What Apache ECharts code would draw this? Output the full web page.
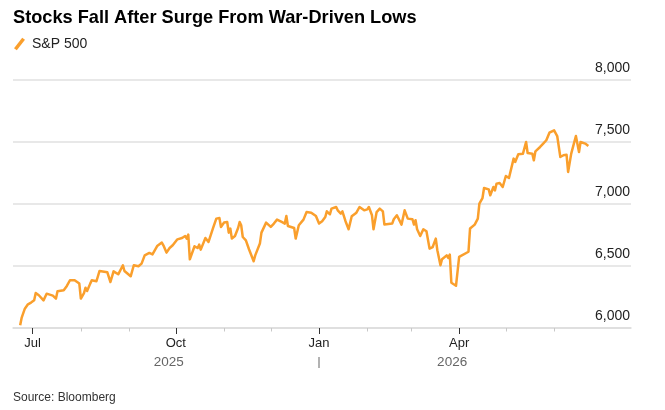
<!DOCTYPE html>
<html><head><meta charset="utf-8">
<script src="https://cdn.jsdelivr.net/npm/echarts@6/dist/echarts.min.js"></script>
<style>html,body{margin:0;padding:0;background:#fff}#c{width:665px;height:410px}</style>
</head><body><div id="c"></div>
<script>
const chartTitle = 'Stocks Fall After Surge From War-Driven Lows';
const seriesName = 'S&P 500';
const sourceText = 'Source: Bloomberg';

const dates = [
'2025-06-23','2025-06-24','2025-06-25','2025-06-26','2025-06-28','2025-06-30',
'2025-07-02','2025-07-03','2025-07-05','2025-07-08','2025-07-10','2025-07-11','2025-07-14','2025-07-16','2025-07-17','2025-07-21','2025-07-23','2025-07-25','2025-07-28','2025-07-31',
'2025-08-01','2025-08-03','2025-08-04','2025-08-05','2025-08-07','2025-08-08','2025-08-11','2025-08-13','2025-08-14','2025-08-18','2025-08-20','2025-08-22','2025-08-25','2025-08-28','2025-08-29',
'2025-09-02','2025-09-04','2025-09-07','2025-09-09','2025-09-11','2025-09-14','2025-09-16','2025-09-19','2025-09-22','2025-09-23','2025-09-25','2025-09-27','2025-09-29',
'2025-10-02','2025-10-05','2025-10-07','2025-10-08','2025-10-09','2025-10-10','2025-10-13','2025-10-15','2025-10-16','2025-10-17','2025-10-20','2025-10-22','2025-10-25','2025-10-27','2025-10-29','2025-10-30',
'2025-11-01','2025-11-03','2025-11-04','2025-11-05','2025-11-06','2025-11-08','2025-11-10','2025-11-11','2025-11-12','2025-11-13','2025-11-15','2025-11-17','2025-11-18','2025-11-20','2025-11-21','2025-11-24','2025-11-25','2025-11-28',
'2025-12-01','2025-12-03','2025-12-05','2025-12-08','2025-12-10','2025-12-11','2025-12-12','2025-12-16','2025-12-17','2025-12-19','2025-12-22','2025-12-24','2025-12-27','2025-12-30',
'2026-01-01','2026-01-03','2026-01-05','2026-01-06','2026-01-08','2026-01-09','2026-01-12','2026-01-13','2026-01-15','2026-01-16','2026-01-18','2026-01-20','2026-01-22','2026-01-25','2026-01-27','2026-01-30',
'2026-02-01','2026-02-02','2026-02-04','2026-02-05','2026-02-07','2026-02-09','2026-02-11','2026-02-12','2026-02-17','2026-02-18','2026-02-19','2026-02-20','2026-02-23','2026-02-25','2026-02-27',
'2026-03-02','2026-03-03','2026-03-04','2026-03-05','2026-03-06','2026-03-07','2026-03-09','2026-03-11','2026-03-13','2026-03-15','2026-03-17','2026-03-18','2026-03-20','2026-03-21','2026-03-24','2026-03-25','2026-03-26','2026-03-27','2026-03-30',
'2026-04-01','2026-04-07','2026-04-08','2026-04-11','2026-04-13','2026-04-14','2026-04-16','2026-04-17','2026-04-20','2026-04-21','2026-04-23','2026-04-24','2026-04-25','2026-04-27','2026-04-29',
'2026-05-01','2026-05-03','2026-05-04','2026-05-06','2026-05-07','2026-05-09','2026-05-12','2026-05-13','2026-05-14','2026-05-15','2026-05-18','2026-05-19','2026-05-20','2026-05-23','2026-05-25','2026-05-27','2026-05-29',
'2026-06-01','2026-06-02','2026-06-03','2026-06-05','2026-06-07','2026-06-09','2026-06-10','2026-06-12','2026-06-15','2026-06-17','2026-06-18','2026-06-21','2026-06-23'
];

const values = [
6022,6084,6094,6156,6191,6205,
6223,6282,6264,6223,6277,6261,6261,6237,6296,6304,6339,6385,6385,6358,
6237,6282,6325,6298,6358,6385,6377,6460,6452,6449,6371,6457,6433,6506,6460,
6417,6506,6498,6519,6586,6605,6594,6661,6689,6667,6608,6645,6667,
6715,6726,6742,6721,6753,6554,6659,6645,6672,6632,6726,6694,6810,6882,6887,6815,
6850,6855,6769,6802,6721,6742,6806,6855,6828,6734,6707,6635,6645,6538,6586,6681,6769,6850,
6815,6842,6874,6855,6842,6903,6823,6806,6721,6828,6874,6935,6930,6903,
6842,6861,6895,6941,6917,6963,6976,6949,6922,6941,6861,6796,6901,6930,6976,6949,
6957,6976,6909,6796,6935,6963,6941,6834,6842,6877,6861,6909,6834,6949,6882,
6877,6834,6869,6796,6806,6742,6796,6780,6640,6653,6721,6627,6506,6554,6586,6565,6592,6365,6341,
6573,6615,6802,6834,6882,7003,7048,7129,7118,7070,7137,7110,7164,7169,7137,
7226,7210,7199,7366,7339,7401,7406,7393,7500,7411,7406,7352,7425,7460,7487,7514,7575,
7594,7608,7548,7379,7393,7398,7258,7406,7548,7419,7500,7487,7468
];

const yMin = 6000, yMax = 8000, yStep = 500;
const quarterTickDates = ['2025-07-01','2025-10-01','2026-01-01','2026-04-01'];
const quarterTickLabels = ['Jul','Oct','Jan','Apr'];
const monthTickDates = ['2025-08-01','2025-09-01','2025-11-01','2025-12-01','2026-02-01','2026-03-01','2026-05-01','2026-06-01'];
const yearLabelDates = ['2025-09-26','2026-03-27'];
const yearLabels = ['2025','2026'];
const yearBreakDates = ['2026-01-01'];

const DAY = 864e5;
function ts(s){ const p = s.split('-').map(Number); return Date.UTC(p[0], p[1]-1, p[2]); }
const quarterTs = quarterTickDates.map(ts);
const monthTs = monthTickDates.map(ts);
const yearTs = yearLabelDates.map(s => ts(s) + DAY/2);
const breakTs = yearBreakDates.map(ts);
const axisStart = ts('2025-07-01');
const xMin = axisStart - 12.6*DAY;
const xMax = axisStart + 384.4*DAY;

function nearestIdx(arr, v){ let bi=0, bd=Infinity; arr.forEach((a,i)=>{const d=Math.abs(a-v); if(d<bd){bd=d;bi=i;}}); return bi; }

const FONT = '"Liberation Sans", Arial, Helvetica, sans-serif';
const ORANGE = '#fa9f2c';

const xBase = { type:'value', min:xMin, max:xMax, position:'bottom', splitLine:{show:false}, gridIndex:0 };

const chart = echarts.init(document.getElementById('c'), null, {renderer:'canvas'});
chart.setOption({
  animation:false,
  backgroundColor:'#ffffff',
  textStyle:{fontFamily:FONT},
  title:[
    {text:chartTitle, left:13, top:9, padding:0, textStyle:{fontSize:18.2, fontWeight:'bold', color:'#000', fontFamily:FONT}},
    {text:sourceText, left:13, top:392, padding:0, textStyle:{fontSize:12, fontWeight:'normal', color:'#333', fontFamily:FONT}}
  ],
  legend:{
    left:14, top:37, padding:0, itemWidth:11, itemHeight:13, itemGap:10,
    textStyle:{fontSize:14, color:'#222', fontFamily:FONT, padding:[0,0,0,2]},
    data:[{name:seriesName, icon:'path://M0,10.5 L8.2,0 L11,1.8 L2.8,12.3 Z'}]
  },
  grid:{left:13, right:34, top:80, bottom:82, containLabel:false},
  xAxis:[
    Object.assign({}, xBase, {
      axisLine:{show:true, lineStyle:{color:'#dcdcdc', width:1.5}},
      axisTick:{show:true, customValues:quarterTs, length:6, lineStyle:{color:'#333', width:1}},
      axisLabel:{show:true, customValues:quarterTs, margin:9, fontSize:13, color:'#222', fontFamily:FONT,
        formatter:v => quarterTickLabels[nearestIdx(quarterTs, v)]}
    }),
    Object.assign({}, xBase, {
      axisLine:{show:false},
      axisTick:{show:true, customValues:monthTs, length:3.5, lineStyle:{color:'#c8c8c8', width:1}},
      axisLabel:{show:false}
    }),
    Object.assign({}, xBase, {
      axisLine:{show:false},
      axisTick:{show:false},
      axisLabel:{show:true, customValues:yearTs, margin:27, fontSize:13.5, color:'#666', fontFamily:FONT,
        formatter:v => yearLabels[nearestIdx(yearTs, v)]}
    }),
    Object.assign({}, xBase, {
      offset:29,
      axisLine:{show:false},
      axisTick:{show:true, customValues:breakTs, length:11, lineStyle:{color:'#999', width:1.5}},
      axisLabel:{show:false}
    })
  ],
  yAxis:{
    type:'value', position:'right', min:yMin, max:yMax, interval:yStep,
    axisLine:{show:false}, axisTick:{show:false},
    splitLine:{show:true, lineStyle:{color:'#e0e0e0', width:1.5}},
    axisLabel:{inside:true, align:'right', verticalAlign:'bottom', lineHeight:24, margin:1,
      fontSize:14, color:'#222', fontFamily:FONT,
      formatter:v => v.toLocaleString('en-US')}
  },
  series:[{
    name:seriesName, type:'line', xAxisIndex:0, showSymbol:false, symbol:'none',
    color:ORANGE,
    lineStyle:{color:ORANGE, width:2.5, join:'round'},
    itemStyle:{color:ORANGE},
    data:dates.map((d,i)=>[ts(d), values[i]])
  }]
});
</script></body></html>
